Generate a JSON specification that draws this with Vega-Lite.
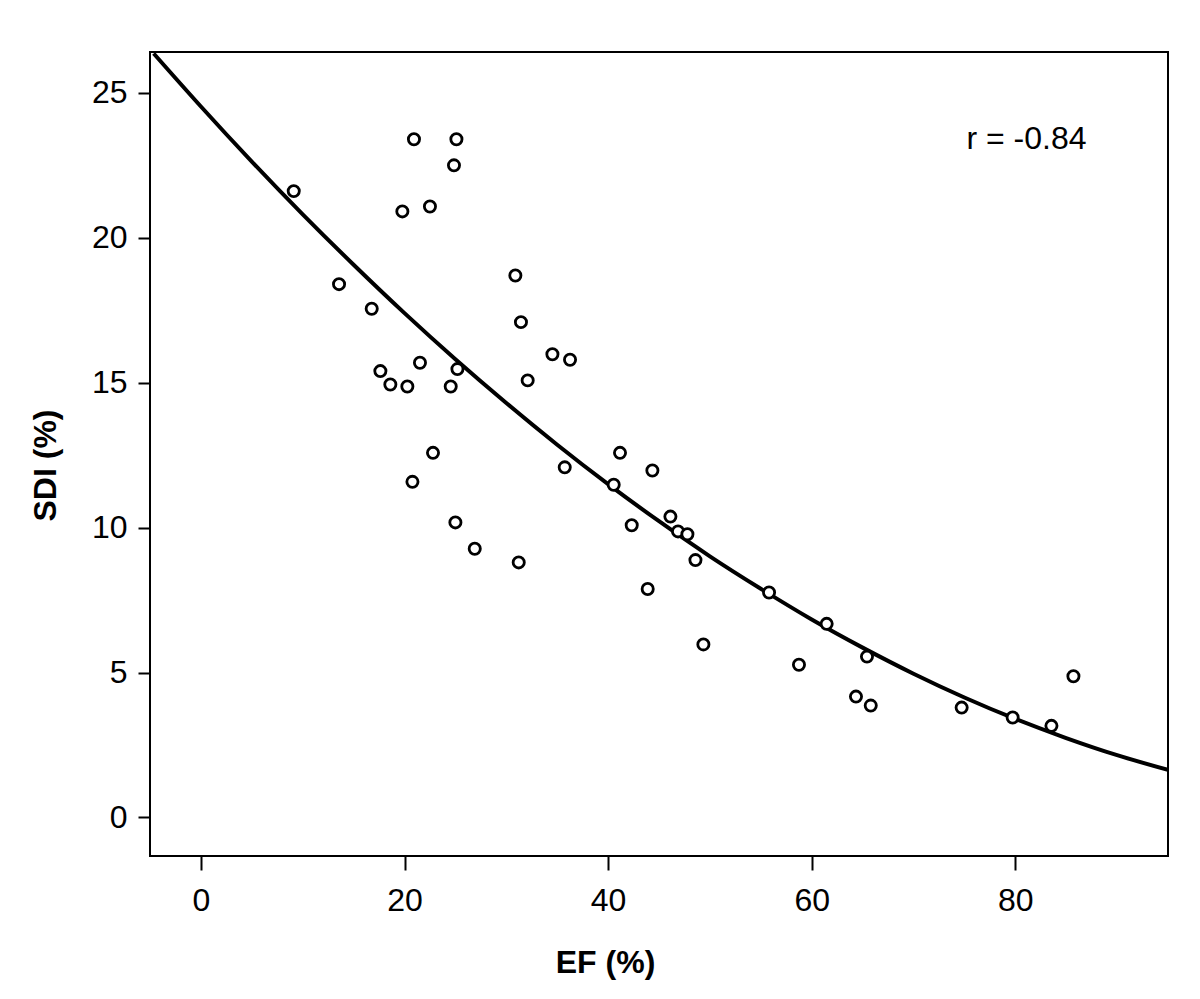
{
  "$schema": "https://vega.github.io/schema/vega-lite/v6.json",
  "autosize": "none",
  "width": 1018,
  "height": 804,
  "padding": {"left": 150, "top": 52, "right": 32, "bottom": 143},
  "background": "white",
  "config": {
    "view": {"stroke": "black", "strokeWidth": 2},
    "font": "Liberation Sans",
    "axis": {
      "domain": false,
      "grid": false,
      "tickColor": "black",
      "tickWidth": 2,
      "labelColor": "black",
      "labelFont": "Liberation Sans",
      "labelFontSize": 32,
      "titleColor": "black",
      "titleFont": "Liberation Sans",
      "titleFontSize": 32,
      "titleFontWeight": "bold"
    }
  },
  "datasets": {
    "points": [
      {"EF": 9.12, "SDI": 21.61},
      {"EF": 13.57, "SDI": 18.40},
      {"EF": 16.78, "SDI": 17.55},
      {"EF": 17.63, "SDI": 15.40},
      {"EF": 18.61, "SDI": 14.94},
      {"EF": 19.79, "SDI": 20.91},
      {"EF": 20.28, "SDI": 14.87},
      {"EF": 20.78, "SDI": 11.58},
      {"EF": 20.93, "SDI": 23.40},
      {"EF": 21.52, "SDI": 15.69},
      {"EF": 22.50, "SDI": 21.08},
      {"EF": 22.80, "SDI": 12.58},
      {"EF": 24.54, "SDI": 14.87},
      {"EF": 24.86, "SDI": 22.50},
      {"EF": 25.10, "SDI": 23.40},
      {"EF": 25.00, "SDI": 10.18},
      {"EF": 25.20, "SDI": 15.47},
      {"EF": 26.90, "SDI": 9.27},
      {"EF": 30.89, "SDI": 18.70},
      {"EF": 31.22, "SDI": 8.80},
      {"EF": 31.44, "SDI": 17.09},
      {"EF": 32.10, "SDI": 15.08},
      {"EF": 34.53, "SDI": 15.98},
      {"EF": 35.74, "SDI": 12.08},
      {"EF": 36.26, "SDI": 15.79},
      {"EF": 40.55, "SDI": 11.48},
      {"EF": 41.17, "SDI": 12.58},
      {"EF": 42.32, "SDI": 10.08},
      {"EF": 43.89, "SDI": 7.88},
      {"EF": 44.35, "SDI": 11.97},
      {"EF": 46.12, "SDI": 10.38},
      {"EF": 46.87, "SDI": 9.87},
      {"EF": 47.79, "SDI": 9.77},
      {"EF": 48.58, "SDI": 8.88},
      {"EF": 49.36, "SDI": 5.97},
      {"EF": 55.81, "SDI": 7.76},
      {"EF": 58.75, "SDI": 5.27},
      {"EF": 61.47, "SDI": 6.68},
      {"EF": 64.35, "SDI": 4.17},
      {"EF": 65.43, "SDI": 5.55},
      {"EF": 65.80, "SDI": 3.86},
      {"EF": 74.73, "SDI": 3.79},
      {"EF": 79.74, "SDI": 3.45},
      {"EF": 83.55, "SDI": 3.16},
      {"EF": 85.71, "SDI": 4.87}
    ],
    "fit": [
      {"EF": -4.64, "SDI": 26.36},
      {"EF": 0, "SDI": 24.53},
      {"EF": 5, "SDI": 22.63},
      {"EF": 10, "SDI": 20.81},
      {"EF": 15, "SDI": 19.07},
      {"EF": 20, "SDI": 17.40},
      {"EF": 25, "SDI": 15.81},
      {"EF": 30, "SDI": 14.30},
      {"EF": 35, "SDI": 12.86},
      {"EF": 40, "SDI": 11.50},
      {"EF": 45, "SDI": 10.22},
      {"EF": 50, "SDI": 9.01},
      {"EF": 55, "SDI": 7.89},
      {"EF": 60, "SDI": 6.83},
      {"EF": 65, "SDI": 5.86},
      {"EF": 70, "SDI": 4.96},
      {"EF": 75, "SDI": 4.14},
      {"EF": 80, "SDI": 3.40},
      {"EF": 85, "SDI": 2.74},
      {"EF": 90, "SDI": 2.15},
      {"EF": 95, "SDI": 1.64}
    ],
    "label": [
      {"EF": 75.2, "SDI": 23.42, "text": "r = -0.84"}
    ]
  },
  "layer": [
    {
      "data": {"name": "fit"},
      "mark": {"type": "line", "color": "black", "strokeWidth": 4, "interpolate": "natural", "clip": true},
      "encoding": {
        "x": {
          "field": "EF", "type": "quantitative",
          "scale": {"domain": [-5, 95], "nice": false, "zero": false},
          "axis": {
            "values": [0, 20, 40, 60, 80],
            "tickSize": 14,
            "labelPadding": 15,
            "labelFontSize": 32,
            "title": "EF (%)",
            "titleFontSize": 32,
            "titleX": 455,
            "titleY": 106,
            "titleAlign": "center",
            "titleBaseline": "middle"
          }
        },
        "y": {
          "field": "SDI", "type": "quantitative",
          "scale": {"domain": [-1.33, 26.41], "nice": false, "zero": false},
          "axis": {
            "values": [0, 5, 10, 15, 20, 25],
            "tickSize": 12,
            "labelPadding": 11,
            "labelFontSize": 32,
            "title": "SDI (%)",
            "titleFontSize": 32,
            "titleX": -105,
            "titleY": 413,
            "titleAngle": -90,
            "titleAlign": "center",
            "titleBaseline": "middle"
          }
        }
      }
    },
    {
      "data": {"name": "points"},
      "mark": {"type": "point", "shape": "circle", "filled": false, "fill": "white", "fillOpacity": 1, "stroke": "black", "strokeWidth": 2.8, "size": 125, "opacity": 1},
      "encoding": {
        "x": {"field": "EF", "type": "quantitative"},
        "y": {"field": "SDI", "type": "quantitative"}
      }
    },
    {
      "data": {"name": "label"},
      "mark": {"type": "text", "align": "left", "baseline": "middle", "fontSize": 32, "font": "Liberation Sans", "color": "black"},
      "encoding": {
        "x": {"field": "EF", "type": "quantitative"},
        "y": {"field": "SDI", "type": "quantitative"},
        "text": {"field": "text"}
      }
    }
  ]
}
